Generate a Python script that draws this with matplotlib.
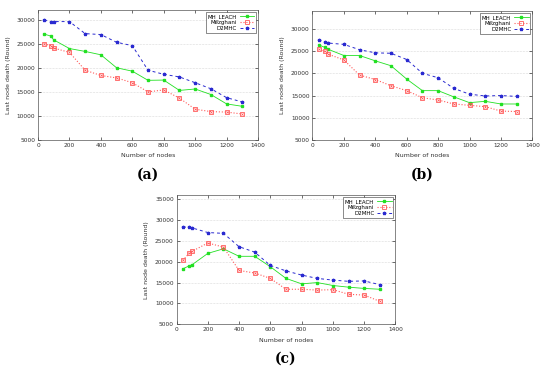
import matplotlib
matplotlib.use("Agg")
import matplotlib.pyplot as plt

NODES = [40, 80, 100, 200, 300, 400, 500, 600, 700, 800, 900, 1000, 1100, 1200, 1300]

# (a)
A_MH = [27000, 26600, 25800, 24000, 23400, 22700, 20000, 19300, 17400,
        17450, 15300, 15600, 14450, 12500, 12000]
A_MEZ = [25000, 24600, 24100, 23200, 19500, 18400, 17900, 16900, 15000,
         15400, 13700, 11400, 10900, 10800, 10400]
A_D2 = [29900, 29600, 29600, 29600, 27100, 26900, 25300, 24600, 19500,
        18650, 18100, 16900, 15650, 13800, 12900]
# (b)
B_MH = [26400, 25800, 25400, 24000, 24000, 22800, 21700, 18700, 16100,
        16100, 14700, 13400, 13700, 13100, 13100]
B_MEZ = [25400, 24900, 24300, 23000, 19600, 18600, 17200, 16100, 14500,
         14000, 13100, 12800, 12500, 11500, 11400]
B_D2 = [27500, 27000, 26800, 26500, 25300, 24600, 24500, 23100, 20000,
        19000, 16600, 15300, 14900, 15000, 14800]
# (c)
C_MH = [18300, 19000, 19300, 22000, 23100, 21300, 21300, 18800, 16000,
        14700, 15000, 14300, 13900, 13600, 13400]
C_MEZ = [20300, 22000, 22500, 24500, 23500, 17900, 17300, 16000, 13400,
         13400, 13200, 13300, 12200, 12000, 10500]
C_D2 = [28300, 28300, 28100, 27000, 26800, 23600, 22300, 19100, 17800,
        16800, 16000, 15600, 15300, 15400, 14500]

PANELS = [
    ("(a)", [0.0691, 0.6226, 0.400, 0.3504], 32000, A_MH, A_MEZ, A_D2),
    ("(b)", [0.5680, 0.6226, 0.400, 0.3477], 34000, B_MH, B_MEZ, B_D2),
    ("(c)", [0.3210, 0.1259, 0.398, 0.3485], 36000, C_MH, C_MEZ, C_D2),
]

GREEN, RED, BLUE = "#22e022", "#ff5a5a", "#2a2ad0"

fig = plt.figure(figsize=(5.5, 3.71), dpi=100)
for tag, rect, ymax, mh, mez, d2 in PANELS:
    ax = fig.add_axes(rect)
    ax.plot(NODES, mh, "-", color=GREEN, lw=0.6, marker="s", ms=2.0,
            mec=GREEN, mfc=GREEN, label="MH_LEACH")
    ax.plot(NODES, mez, ":", color=RED, lw=0.8, marker="s", ms=2.2,
            mec=RED, mfc="none", mew=0.6, label="Mezghani")
    ax.plot(NODES, mez, "none", marker="x", ms=1.6, mec=RED, mew=0.5)
    ax.plot(NODES, d2, "--", color=BLUE, lw=0.7, dashes=(3, 3), marker="*",
            ms=2.4, mec=BLUE, mfc=BLUE, label="D2MHC")
    ax.set_xlim(0, 1400)
    ax.set_ylim(5000, ymax)
    ax.set_xticks(range(0, 1401, 200))
    ax.set_yticks(range(5000, ymax + 1, 5000))
    ax.tick_params(direction="in", top=True, right=True, labelsize=4.2,
                   length=2, width=0.4, pad=2, labelcolor="#333333")
    for s in ax.spines.values():
        s.set_linewidth(0.5)
        s.set_color("#555555")
    ax.yaxis.grid(True, ls=":", lw=0.4, color="#bbbbbb")
    ax.set_axisbelow(True)
    ax.set_xlabel("Number of nodes", fontsize=4.5, labelpad=4, color="#333333")
    ax.set_ylabel("Last node death (Round)", fontsize=4.5, labelpad=4,
                  color="#333333")
    leg = ax.legend(loc="upper right", fontsize=4.0, markerfirst=False,
                    fancybox=False, framealpha=1, edgecolor="#333333",
                    handlelength=2.6, borderpad=0.3, labelspacing=0.15,
                    handletextpad=0.5, borderaxespad=0.4)
    leg.get_frame().set_linewidth(0.4)
    for t in leg.get_texts():
        t.set_ha("right")
    fig.text(rect[0] + rect[2] / 2, rect[1] - 0.094, tag, ha="center",
             va="center", fontsize=10, fontweight="bold",
             family="DejaVu Serif")

fig.savefig("out.png", dpi=100)
